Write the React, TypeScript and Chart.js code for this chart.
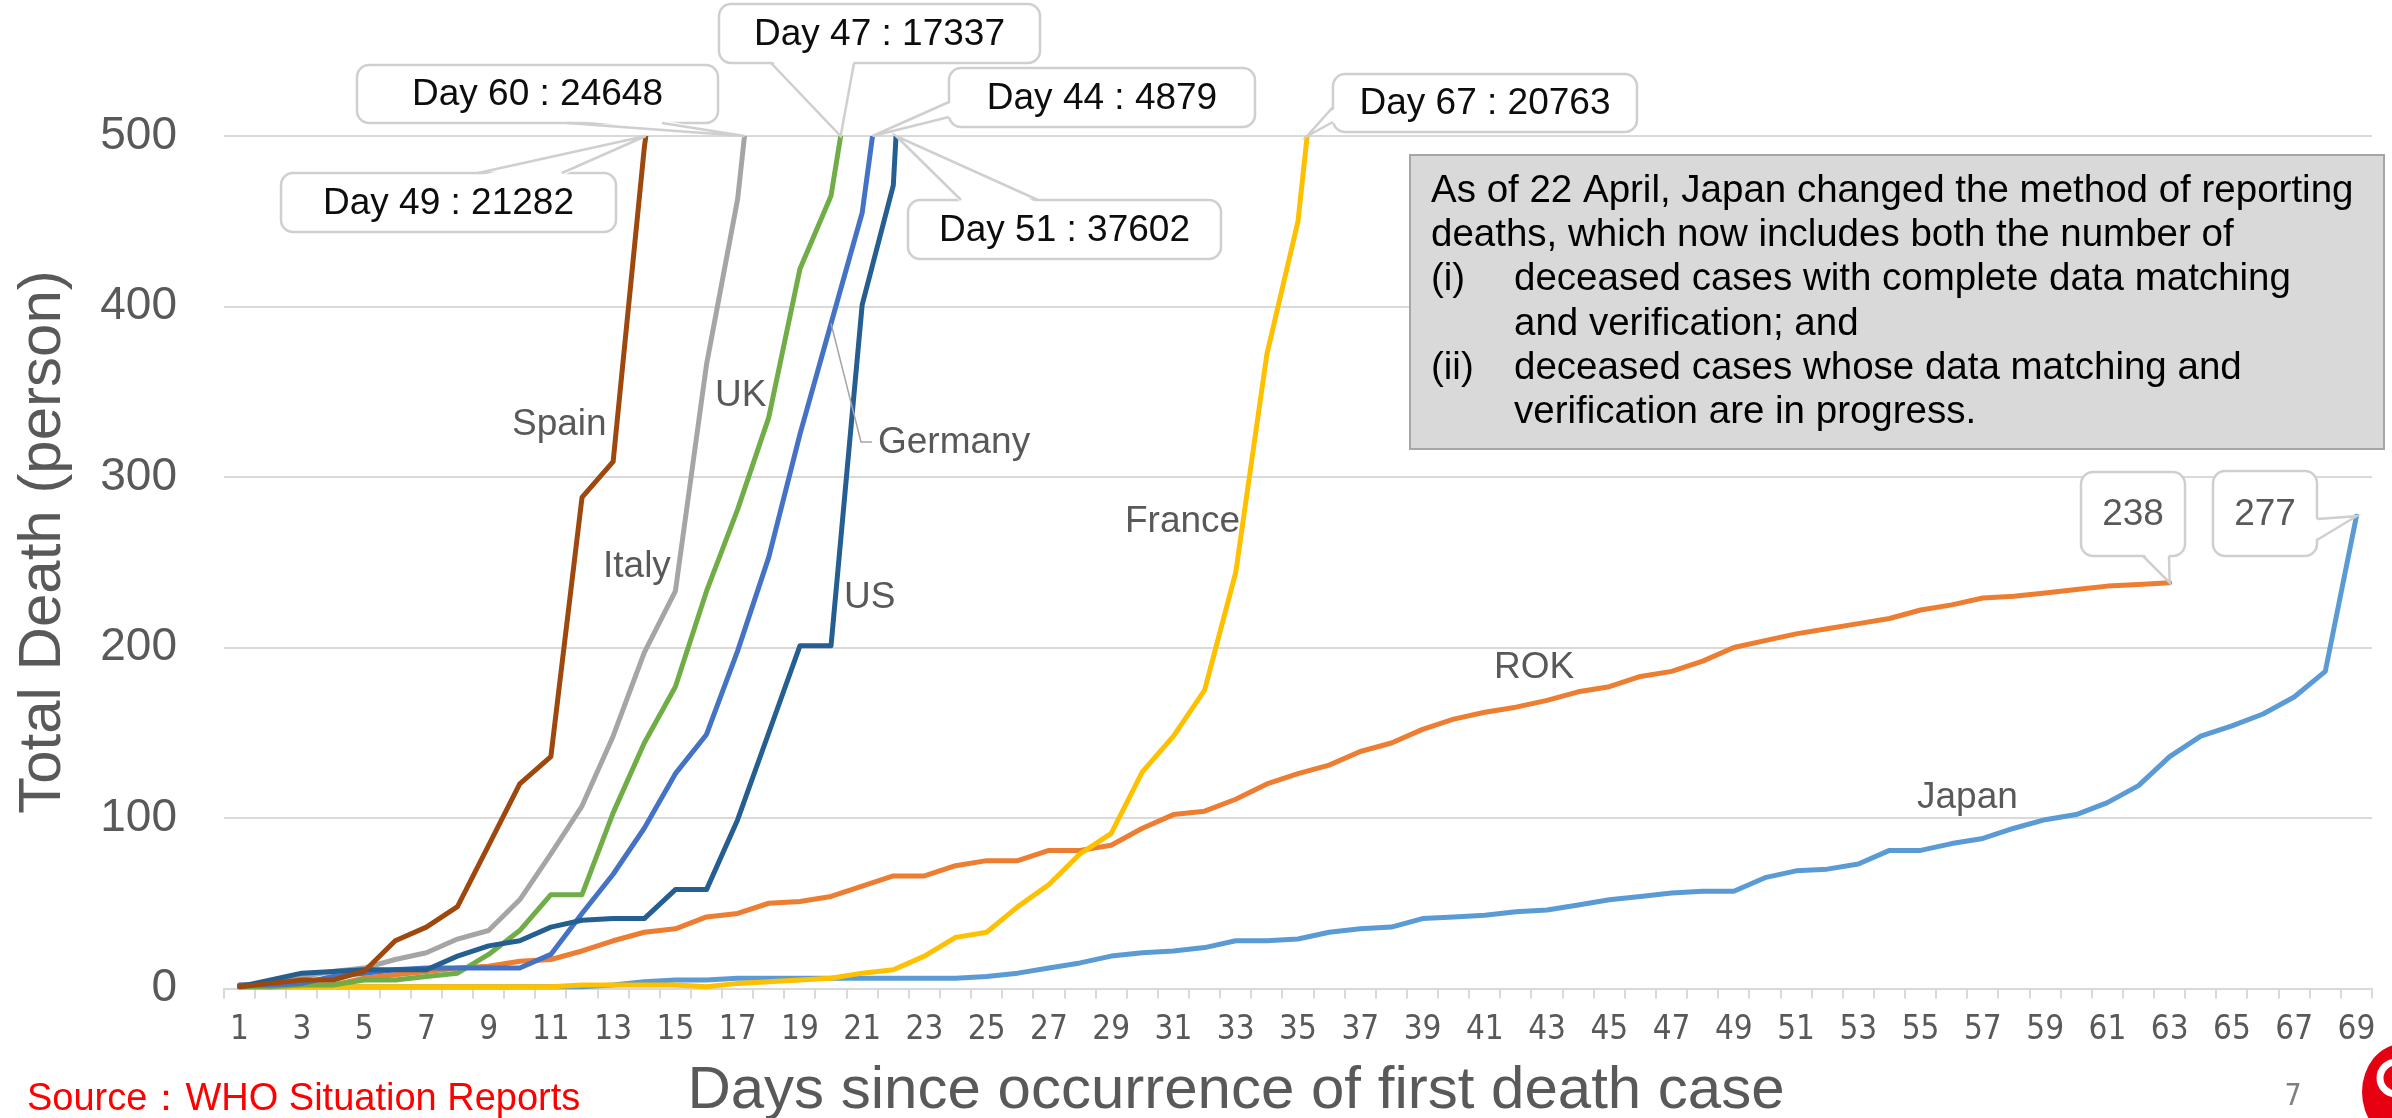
import React, { useEffect, useRef } from 'react';
import { Chart, registerables } from 'chart.js';

Chart.register(...registerables);

// ---------- data ----------
const days: string[] = Array.from({ length: 69 }, (_, i) => String(i + 1));
const yTicks = [0, 100, 200, 300, 400, 500];

const spain = [1, 3, 5, 5, 10, 28, 36, 48, 84, 120, 136, 288, 309, 493, 630];
const italy = [2, 3, 7, 10, 12, 17, 21, 29, 34, 52, 79, 107, 148, 197, 233, 366, 463, 631];
const uk = [1, 1, 2, 2, 5, 5, 7, 9, 20, 34, 55, 55, 103, 144, 177, 233, 281, 335, 422, 465, 578];
const germany = [2, 2, 3, 7, 9, 11, 12, 12, 12, 12, 20, 44, 67, 94, 126, 149, 198, 253, 325, 390, 455, 590];
const us = [1, 5, 9, 10, 11, 11, 11, 19, 25, 28, 36, 40, 41, 41, 58, 58, 99, 150, 201, 201, 401, 471, 800];
const france = [1, 1, 1, 1, 1, 1, 1, 1, 1, 1, 1, 2, 2, 2, 2, 1, 3, 4, 5, 6, 9, 11, 19, 30, 33, 48, 61, 79, 91, 127, 148, 175, 244, 372, 450, 620];
const rok = [1, 1, 2, 2, 6, 8, 10, 12, 13, 16, 17, 22, 28, 33, 35, 42, 44, 50, 51, 54, 60, 66, 66, 72, 75, 75, 81, 81, 84, 94, 102, 104, 111, 120, 126, 131, 139, 144, 152, 158, 162, 165, 169, 174, 177, 183, 186, 192, 200, 204, 208, 211, 214, 217, 222, 225, 229, 230, 232, 234, 236, 237, 238];
const japan = [1, 1, 1, 1, 1, 1, 1, 1, 1, 1, 1, 1, 2, 4, 5, 5, 6, 6, 6, 6, 6, 6, 6, 6, 7, 9, 12, 15, 19, 21, 22, 24, 28, 28, 29, 33, 35, 36, 41, 42, 43, 45, 46, 49, 52, 54, 56, 57, 57, 65, 69, 70, 73, 81, 81, 85, 88, 94, 99, 102, 109, 119, 136, 148, 154, 161, 171, 186, 277];

const seriesNames = ['Spain', 'US', 'Germany', 'UK', 'Italy', 'France', 'ROK', 'Japan'];
const calloutTexts = ['Day 60 : 24648', 'Day 49 : 21282', 'Day 47 : 17337', 'Day 44 : 4879', 'Day 51 : 37602', 'Day 67 : 20763'];
const endLabels = ['238', '277'];
const noteLines = [
  'As of 22 April, Japan changed the method of reporting',
  'deaths, which now includes both the number of',
  'deceased cases with complete data matching',
  'and verification; and',
  'deceased cases whose data matching and',
  'verification are in progress.',
];
const noteMarks = ['(i)', '(ii)'];
const sourceText = 'Source：WHO Situation Reports';
const xTitle = 'Days since occurrence of first death case';
const yTitle = 'Total Death (person)';
const pageNo = '7';

// ---------- styles ----------
const COLORS: Record<string, string> = {
  Spain: '#9E480E', US: '#255E91', Germany: '#4472C4', UK: '#70AD47',
  Italy: '#A5A5A5', France: '#FFC000', ROK: '#ED7D31', Japan: '#5B9BD5',
};
const SERIES: Record<string, number[]> = {
  Spain: spain, US: us, Germany: germany, UK: uk, Italy: italy, France: france, ROK: rok, Japan: japan,
};
const F = '"Liberation Sans", Arial, sans-serif';
const FN = '"Liberation Sans Narrow", "DejaVu Sans Condensed", "Liberation Sans", sans-serif';
const GRAY = '#595959';

type Edge = 'top' | 'bottom' | 'left' | 'right';

function roundRectPath(ctx: CanvasRenderingContext2D, x: number, y: number, w: number, h: number, r: number) {
  ctx.beginPath();
  ctx.moveTo(x + r, y);
  ctx.arcTo(x + w, y, x + w, y + h, r);
  ctx.arcTo(x + w, y + h, x, y + h, r);
  ctx.arcTo(x, y + h, x, y, r);
  ctx.arcTo(x, y, x + w, y, r);
  ctx.closePath();
}

function drawCallout(
  ctx: CanvasRenderingContext2D,
  box: number[], edge: Edge, b: number[], tip: { x: number; y: number },
  text: string, color: string,
) {
  const [x, y, w, h] = box;
  ctx.save();
  ctx.lineWidth = 2.5;
  ctx.strokeStyle = '#CFCFCF';
  ctx.fillStyle = '#FFFFFF';
  roundRectPath(ctx, x, y, w, h, 12);
  ctx.fill();
  ctx.stroke();
  let p1: number[], p2: number[], i1: number[], i2: number[];
  if (edge === 'top') { p1 = [b[0], y]; p2 = [b[1], y]; i1 = [b[0], y + 3]; i2 = [b[1], y + 3]; }
  else if (edge === 'bottom') { p1 = [b[0], y + h]; p2 = [b[1], y + h]; i1 = [b[0], y + h - 3]; i2 = [b[1], y + h - 3]; }
  else if (edge === 'left') { p1 = [x, b[0]]; p2 = [x, b[1]]; i1 = [x + 3, b[0]]; i2 = [x + 3, b[1]]; }
  else { p1 = [x + w, b[0]]; p2 = [x + w, b[1]]; i1 = [x + w - 3, b[0]]; i2 = [x + w - 3, b[1]]; }
  ctx.beginPath();
  ctx.moveTo(i1[0], i1[1]);
  ctx.lineTo(tip.x, tip.y);
  ctx.lineTo(i2[0], i2[1]);
  ctx.closePath();
  ctx.fill();
  ctx.beginPath();
  ctx.moveTo(p1[0], p1[1]);
  ctx.lineTo(tip.x, tip.y);
  ctx.lineTo(p2[0], p2[1]);
  ctx.stroke();
  ctx.fillStyle = color;
  ctx.font = `37px ${F}`;
  ctx.textAlign = 'center';
  ctx.textBaseline = 'middle';
  ctx.fillText(text, x + w / 2, y + h / 2 + 1);
  ctx.restore();
}

export default function App() {
  const ref = useRef<HTMLCanvasElement>(null);

  useEffect(() => {
    const canvas = ref.current;
    if (!canvas) return;

    const crossing = (chart: any, data: number[]) => {
      const xs = chart.scales.x;
      const ys = chart.scales.y;
      const top = chart.chartArea.top;
      for (let i = 1; i < data.length; i++) {
        if (data[i] > 500) {
          const x1 = xs.getPixelForValue(i - 1), y1 = ys.getPixelForValue(data[i - 1]);
          const x2 = xs.getPixelForValue(i), y2 = ys.getPixelForValue(data[i]);
          const t = (top - y1) / (y2 - y1);
          return { x: x1 + t * (x2 - x1), y: top };
        }
      }
      const n = data.length - 1;
      return { x: xs.getPixelForValue(n), y: ys.getPixelForValue(data[n]) };
    };
    const lastPoint = (chart: any, data: number[]) => {
      const n = data.length - 1;
      return { x: chart.scales.x.getPixelForValue(n), y: chart.scales.y.getPixelForValue(data[n]) };
    };

    const overlay = {
      id: 'overlay',
      beforeDraw(chart: any) {
        const ctx = chart.ctx as CanvasRenderingContext2D;
        ctx.save();
        ctx.fillStyle = '#FFFFFF';
        ctx.fillRect(0, 0, chart.width, chart.height);
        ctx.restore();
      },
      afterDatasetsDraw(chart: any) {
        const ctx = chart.ctx as CanvasRenderingContext2D;
        const xs = chart.scales.x;
        const ys = chart.scales.y;

        // Germany leader line
        ctx.save();
        ctx.strokeStyle = '#A6A6A6';
        ctx.lineWidth = 1.5;
        ctx.beginPath();
        ctx.moveTo(xs.getPixelForValue(19), ys.getPixelForValue(germany[19]));
        ctx.lineTo(861, 442);
        ctx.lineTo(872, 442);
        ctx.stroke();
        ctx.restore();

        // series labels
        ctx.save();
        ctx.fillStyle = GRAY;
        ctx.font = `37px ${F}`;
        ctx.textAlign = 'left';
        ctx.textBaseline = 'alphabetic';
        const labelPos: Record<string, number[]> = {
          Spain: [512, 435], UK: [715, 406], Germany: [878, 453], Italy: [603, 577],
          US: [844, 608], France: [1125, 532], ROK: [1494, 678], Japan: [1917, 808],
        };
        seriesNames.forEach((n) => {
          const p = labelPos[n];
          ctx.fillText(n, p[0], p[1]);
        });
        ctx.restore();

        // callouts
        const callouts: { text: string; data: number[]; box: number[]; edge: Edge; b: number[] }[] = [
          { text: calloutTexts[0], data: italy, box: [357, 65, 361, 58], edge: 'bottom', b: [567, 662] },
          { text: calloutTexts[1], data: spain, box: [281, 173, 335, 59], edge: 'top', b: [478, 562] },
          { text: calloutTexts[2], data: uk, box: [719, 4, 321, 59], edge: 'bottom', b: [771, 854] },
          { text: calloutTexts[3], data: germany, box: [949, 68, 306, 59], edge: 'left', b: [102, 117] },
          { text: calloutTexts[4], data: us, box: [908, 200, 313, 59], edge: 'top', b: [961, 1038] },
          { text: calloutTexts[5], data: france, box: [1333, 74, 304, 58], edge: 'left', b: [107, 122] },
        ];
        callouts.forEach((c) => {
          drawCallout(ctx, c.box, c.edge, c.b, crossing(chart, c.data), c.text, '#0D0D0D');
        });
        drawCallout(ctx, [2081, 472, 104, 84], 'bottom', [2143, 2169], lastPoint(chart, rok), endLabels[0], GRAY);
        drawCallout(ctx, [2213, 471, 104, 85], 'right', [519, 540], lastPoint(chart, japan), endLabels[1], GRAY);
      },
      afterDraw(chart: any) {
        const ctx = chart.ctx as CanvasRenderingContext2D;
        ctx.save();
        // note box
        ctx.fillStyle = '#D9D9D9';
        ctx.fillRect(1410, 155, 974, 294);
        ctx.strokeStyle = '#A6A6A6';
        ctx.lineWidth = 2;
        ctx.strokeRect(1410, 155, 974, 294);
        ctx.fillStyle = '#000000';
        ctx.font = `38.5px ${F}`;
        ctx.textAlign = 'left';
        ctx.textBaseline = 'alphabetic';
        const base = [202, 246, 290, 335, 379, 423];
        ctx.fillText(noteLines[0], 1431, base[0]);
        ctx.fillText(noteLines[1], 1431, base[1]);
        ctx.fillText(noteMarks[0], 1431, base[2]);
        ctx.fillText(noteLines[2], 1514, base[2]);
        ctx.fillText(noteLines[3], 1514, base[3]);
        ctx.fillText(noteMarks[1], 1431, base[4]);
        ctx.fillText(noteLines[4], 1514, base[4]);
        ctx.fillText(noteLines[5], 1514, base[5]);

        // axis titles
        ctx.fillStyle = GRAY;
        ctx.font = `60px ${F}`;
        ctx.textAlign = 'center';
        ctx.fillText(xTitle, 1236, 1108);
        ctx.save();
        ctx.translate(60, 542);
        ctx.rotate(-Math.PI / 2);
        ctx.font = `60px ${F}`;
        ctx.fillText(yTitle, 0, 0);
        ctx.restore();

        // source & page number
        ctx.fillStyle = '#FF0000';
        ctx.font = `38px ${F}`;
        ctx.textAlign = 'left';
        ctx.fillText(sourceText, 27, 1110);
        ctx.fillStyle = '#7F7F7F';
        ctx.font = `30px ${FN}`;
        ctx.textAlign = 'center';
        ctx.fillText(pageNo, 2293, 1105);

        // logo fragment
        ctx.fillStyle = '#E60012';
        ctx.beginPath();
        ctx.ellipse(2402, 1092, 40, 48, 0, 0, Math.PI * 2);
        ctx.fill();
        ctx.strokeStyle = '#FFFFFF';
        ctx.lineWidth = 7;
        ctx.beginPath();
        ctx.arc(2396, 1078, 16, 0.5 * Math.PI, 1.6 * Math.PI);
        ctx.stroke();
        ctx.restore();
      },
    };

    const datasets = seriesNames.map((n) => ({
      label: n,
      data: SERIES[n],
      borderColor: COLORS[n],
      backgroundColor: COLORS[n],
      borderWidth: 5,
      pointRadius: 0,
      pointHoverRadius: 0,
      tension: 0,
      fill: false,
      borderJoinStyle: 'round' as const,
      borderCapStyle: 'round' as const,
      clip: { left: 6, right: 6, top: 0, bottom: 6 },
    }));

    const chart = new Chart(canvas, {
      type: 'line',
      data: { labels: days, datasets },
      plugins: [overlay],
      options: {
        animation: false,
        responsive: false,
        devicePixelRatio: 1,
        layout: { padding: { top: 136, right: 20, left: 0, bottom: 0 } },
        plugins: { legend: { display: false }, tooltip: { enabled: false }, title: { display: false } },
        scales: {
          x: {
            type: 'category',
            offset: true,
            grid: {
              offset: true,
              drawOnChartArea: false,
              drawTicks: true,
              tickLength: 10,
              color: '#D9D9D9',
              lineWidth: 2,
            },
            border: { display: true, color: '#D9D9D9', width: 2 },
            ticks: {
              autoSkip: false,
              maxRotation: 0,
              minRotation: 0,
              padding: 12,
              color: GRAY,
              font: { family: FN, size: 33 },
              callback: (_v: any, i: number) => (i % 2 === 0 ? days[i] : ''),
            },
            afterFit: (s: any) => { s.height = 129.5; },
          },
          y: {
            min: yTicks[0],
            max: yTicks[yTicks.length - 1],
            grid: { color: '#D9D9D9', lineWidth: 2, drawTicks: false },
            border: { display: false },
            ticks: {
              stepSize: 100,
              padding: 47,
              color: GRAY,
              font: { family: F, size: 46 },
            },
            afterFit: (s: any) => { s.width = 224; },
          },
        },
      },
    });

    return () => chart.destroy();
  }, []);

  return (
    <div style={{ position: 'fixed', left: 0, top: 0, width: 2392, height: 1118, background: '#FFFFFF' }}>
      <canvas ref={ref} width={2392} height={1118} style={{ display: 'block', width: 2392, height: 1118 }} />
    </div>
  );
}
